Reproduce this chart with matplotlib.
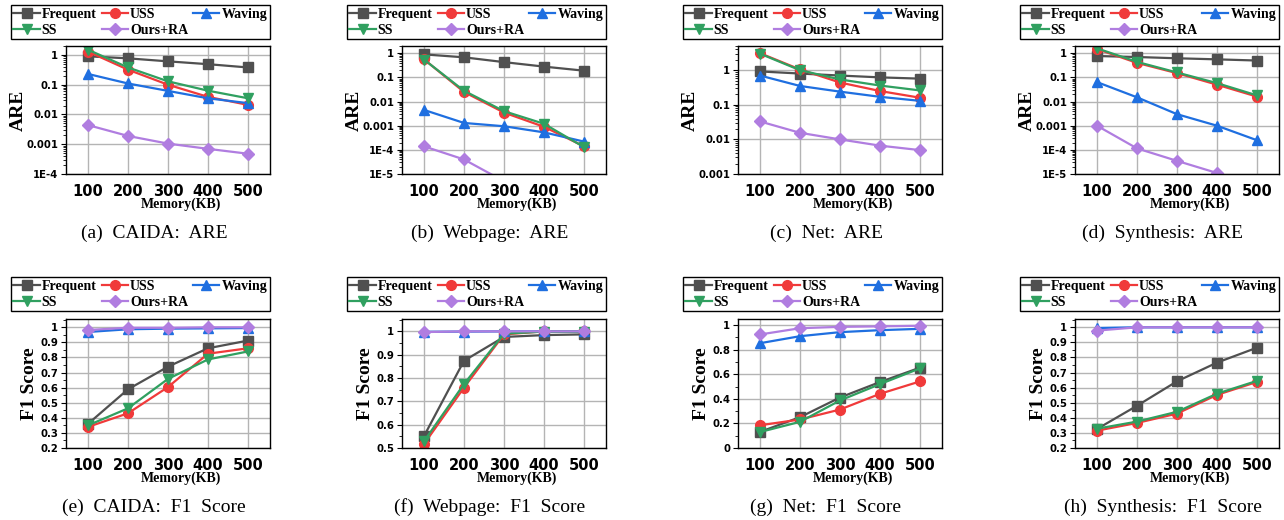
import numpy as np
import matplotlib
matplotlib.use("Agg")
import matplotlib.pyplot as plt
from matplotlib.ticker import AutoMinorLocator, LogLocator, NullFormatter, FixedLocator

memory = [100, 200, 300, 400, 500]
methods = ["Frequent", "USS", "Waving", "SS", "Ours+RA"]

# ARE values (log scale)
are_caida = {
    "Frequent": [0.9, 0.77, 0.61, 0.49, 0.38],
    "USS": [1.3, 0.32, 0.1, 0.039, 0.021],
    "Waving": [0.23, 0.11, 0.062, 0.035, 0.024],
    "SS": [1.5, 0.38, 0.13, 0.063, 0.035],
    "Ours+RA": [0.0044, 0.0019, 0.00105, 0.0007, 0.00048],
}
are_webpage = {
    "Frequent": [0.9, 0.68, 0.43, 0.28, 0.19],
    "USS": [0.56, 0.025, 0.0035, 0.0009, 0.00014],
    "Waving": [0.0045, 0.0013, 0.00095, 0.00053, 0.00022],
    "SS": [0.55, 0.028, 0.004, 0.0012, 0.00013],
    "Ours+RA": [0.00014, 0.00004, 0.000005, 0.000002, 0.000001],
}
are_net = {
    "Frequent": [0.92, 0.8, 0.7, 0.62, 0.57],
    "USS": [3.1, 1.05, 0.44, 0.25, 0.16],
    "Waving": [0.7, 0.35, 0.24, 0.17, 0.13],
    "SS": [3.0, 1.0, 0.54, 0.36, 0.26],
    "Ours+RA": [0.033, 0.0155, 0.01, 0.0066, 0.0049],
}
are_synth = {
    "Frequent": [0.77, 0.7, 0.62, 0.56, 0.5],
    "USS": [1.5, 0.4, 0.15, 0.05, 0.016],
    "Waving": [0.064, 0.015, 0.003, 0.001, 0.00025],
    "SS": [1.6, 0.44, 0.16, 0.058, 0.018],
    "Ours+RA": [0.001, 0.000115, 0.000035, 0.000011, 0.000004],
}

# F1 scores
f1_caida = {
    "Frequent": [0.36, 0.589, 0.739, 0.861, 0.912],
    "USS": [0.34, 0.43, 0.604, 0.825, 0.861],
    "Waving": [0.969, 0.987, 0.991, 0.993, 0.995],
    "SS": [0.35, 0.463, 0.658, 0.787, 0.84],
    "Ours+RA": [0.982, 0.997, 0.997, 1.0, 1.0],
}
f1_webpage = {
    "Frequent": [0.551, 0.874, 0.976, 0.984, 0.987],
    "USS": [0.517, 0.759, 0.987, 1.0, 1.0],
    "Waving": [0.998, 0.999, 1.0, 1.0, 1.0],
    "SS": [0.529, 0.774, 0.99, 0.999, 0.999],
    "Ours+RA": [0.997, 1.0, 1.0, 1.0, 1.0],
}
f1_net = {
    "Frequent": [0.131, 0.251, 0.411, 0.537, 0.654],
    "USS": [0.185, 0.232, 0.313, 0.441, 0.542],
    "Waving": [0.853, 0.91, 0.943, 0.959, 0.97],
    "SS": [0.13, 0.213, 0.387, 0.52, 0.648],
    "Ours+RA": [0.924, 0.975, 0.986, 0.99, 0.995],
}
f1_synth = {
    "Frequent": [0.326, 0.48, 0.642, 0.766, 0.865],
    "USS": [0.315, 0.366, 0.428, 0.552, 0.638],
    "Waving": [0.995, 1.0, 1.0, 1.0, 1.0],
    "SS": [0.328, 0.375, 0.44, 0.56, 0.645],
    "Ours+RA": [0.978, 1.0, 1.0, 1.0, 1.0],
}

colors = {"Frequent": "#505050", "USS": "#f03a3a", "Waving": "#1f6fe0",
          "SS": "#30a060", "Ours+RA": "#b07de0"}
markers = {"Frequent": "s", "USS": "o", "Waving": "^", "SS": "v", "Ours+RA": "D"}
msizes = {"Frequent": 7, "USS": 7, "Waving": 7.5, "SS": 7.5, "Ours+RA": 6.5}

serif = "Liberation Serif"
sans = "DejaVu Sans"

fig = plt.figure(figsize=(12.84, 5.2), dpi=100)
W, H = 1284.0, 520.0

lefts = [66, 402, 738, 1075]
aw = 204
row_top = [46, 319]
row_h = [128, 129]

panels = [
    (0, 0, are_caida, "ARE", "(a)  CAIDA:  ARE", (1e-4, 2.0), [1, 0.1, 0.01, 0.001, 1e-4],
     ["1", "0.1", "0.01", "0.001", "1E-4"]),
    (0, 1, are_webpage, "ARE", "(b)  Webpage:  ARE", (1e-5, 2.0), [1, 0.1, 0.01, 0.001, 1e-4, 1e-5],
     ["1", "0.1", "0.01", "0.001", "1E-4", "1E-5"]),
    (0, 2, are_net, "ARE", "(c)  Net:  ARE", (1e-3, 5.0), [1, 0.1, 0.01, 0.001],
     ["1", "0.1", "0.01", "0.001"]),
    (0, 3, are_synth, "ARE", "(d)  Synthesis:  ARE", (1e-5, 2.0), [1, 0.1, 0.01, 0.001, 1e-4, 1e-5],
     ["1", "0.1", "0.01", "0.001", "1E-4", "1E-5"]),
    (1, 0, f1_caida, "F1 Score", "(e)  CAIDA:  F1  Score", (0.2, 1.055), list(np.arange(0.2, 1.01, 0.1)),
     ["0.2", "0.3", "0.4", "0.5", "0.6", "0.7", "0.8", "0.9", "1"]),
    (1, 1, f1_webpage, "F1 Score", "(f)  Webpage:  F1  Score", (0.5, 1.053), list(np.arange(0.5, 1.01, 0.1)),
     ["0.5", "0.6", "0.7", "0.8", "0.9", "1"]),
    (1, 2, f1_net, "F1 Score", "(g)  Net:  F1  Score", (0.0, 1.05), list(np.arange(0, 1.01, 0.2)),
     ["0", "0.2", "0.4", "0.6", "0.8", "1"]),
    (1, 3, f1_synth, "F1 Score", "(h)  Synthesis:  F1  Score", (0.2, 1.055), list(np.arange(0.2, 1.01, 0.1)),
     ["0.2", "0.3", "0.4", "0.5", "0.6", "0.7", "0.8", "0.9", "1"]),
]

for row, col, data, ylab, caption, ylim, yt, ytl in panels:
    left = lefts[col]
    top = row_top[row]
    h = row_h[row]
    ax = fig.add_axes([left / W, 1 - (top + h) / H, aw / W, h / H])
    is_log = ylab == "ARE"
    if is_log:
        ax.set_yscale("log")
    for m in methods:
        ax.plot(memory, data[m], color=colors[m], marker=markers[m], markersize=msizes[m],
                linewidth=1.6, label=m)
    ax.set_xlim(45, 555)
    ax.set_ylim(*ylim)
    ax.set_xticks(memory)
    ax.set_xticklabels([str(v) for v in memory])
    ax.yaxis.set_major_locator(FixedLocator(yt))
    ax.set_yticklabels(ytl)
    if is_log:
        ax.yaxis.set_minor_locator(LogLocator(base=10, subs=np.arange(2, 10), numticks=20))
        ax.yaxis.set_minor_formatter(NullFormatter())
    else:
        ax.yaxis.set_minor_locator(AutoMinorLocator(2))
    ax.grid(True, which="major", color="#b4b4b4", linewidth=1.0)
    ax.set_axisbelow(True)
    ax.tick_params(axis="x", length=0, pad=7.5)
    ax.tick_params(axis="y", which="major", direction="out", length=3.5, width=0.8, pad=2)
    ax.tick_params(axis="y", which="minor", direction="out", length=2, width=0.6)
    for lab in ax.get_xticklabels():
        lab.set_fontfamily(sans)
        lab.set_fontweight("bold")
        lab.set_fontsize(10.5)
    for lab in ax.get_yticklabels():
        lab.set_fontfamily(sans)
        lab.set_fontweight("bold")
        lab.set_fontsize(7.3)
    for sp in ax.spines.values():
        sp.set_linewidth(1.0)
    ax.set_ylabel(ylab, fontfamily=serif, fontweight="bold", fontsize=14)
    ax.yaxis.set_label_coords(-0.19 if is_log else -0.135, 0.5)
    ax.set_xlabel("Memory(KB)", fontfamily=serif, fontweight="bold", fontsize=10)
    ax.xaxis.set_label_coords(0.566, -0.185)

    handles, labels = ax.get_legend_handles_labels()
    order = [0, 3, 1, 4, 2]
    leg = ax.legend([handles[i] for i in order], [labels[i] for i in order], ncol=3,
                    loc="upper right", bbox_to_anchor=(1.0, 1.0 + (41 if row == 0 else 42) / h),
                    borderaxespad=0, frameon=True, fancybox=False, framealpha=1,
                    edgecolor="black", handlelength=1.9, handletextpad=0.15,
                    columnspacing=0.35, labelspacing=0.2, borderpad=0.2,
                    prop={"family": serif, "weight": "bold", "size": 10})
    leg.get_frame().set_linewidth(1.0)

    cx = (left + aw / 2 - 14) / W
    cy = 1 - (233 if row == 0 else 507) / H
    fig.text(cx, cy, caption, ha="center", va="center", fontfamily=serif, fontsize=14)

fig.savefig("out.png", dpi=100)
